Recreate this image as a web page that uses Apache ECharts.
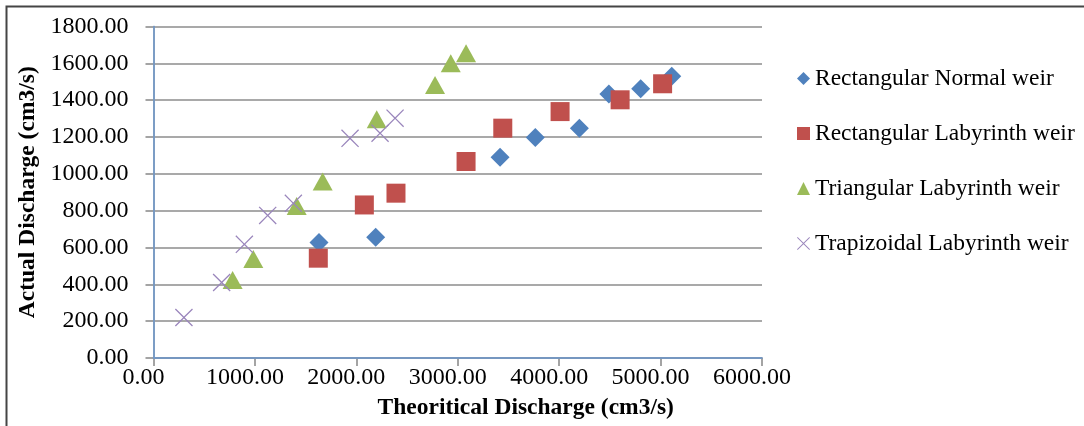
<!DOCTYPE html>
<html>
<head>
<meta charset="utf-8">
<script src="https://cdn.jsdelivr.net/npm/echarts@6/dist/echarts.min.js"></script>
<style>
  html, body { margin: 0; padding: 0; background: #fff; }
  #chart { width: 1084px; height: 426px; }
</style>
</head>
<body>
<div id="chart"></div>
<script>
// Theoretical vs actual discharge (cm3/s) for four weir types
const seriesNames = [
  'Rectangular Normal weir',
  'Rectangular Labyrinth weir',
  'Triangular Labyrinth weir',
  'Trapizoidal Labyrinth weir'
];

const rectangularNormal = [
  [1632, 627], [2191, 656], [3417, 1090], [3765, 1197],
  [4199, 1248], [4490, 1433], [4804, 1462], [5110, 1530]
];
const rectangularLabyrinth = [
  [1625, 542], [2079, 831], [2391, 895], [3082, 1067],
  [3444, 1248], [4009, 1338], [4601, 1402], [5020, 1489]
];
const triangularLabyrinth = [
  [780, 424], [984, 538], [1412, 825], [1668, 958],
  [2201, 1297], [2776, 1483], [2931, 1601], [3082, 1655]
];
const trapizoidalLabyrinth = [
  [300, 220], [672, 410], [896, 617], [1126, 774],
  [1379, 840], [1938, 1193], [2234, 1221], [2382, 1302]
];

const xTitle = 'Theoritical Discharge (cm3/s)';
const yTitle = 'Actual Discharge (cm3/s)';
const xRange = { min: 0, max: 6000, interval: 1000 };
const yRange = { min: 0, max: 1800, interval: 200 };

const FONT = '"Liberation Serif", "Times New Roman", serif';
const colors = ['#4F81BD', '#C0504D', '#9BBB59', '#8064A2'];
// thin diagonal cross marker
const crossPath = 'path://M0,5L5,0L50,45L95,0L100,5L55,50L100,95L95,100L50,55L5,100L0,95L45,50Z';

const chart = echarts.init(document.getElementById('chart'), null, { renderer: 'canvas' });

const fmt = v => Number(v).toFixed(2);

chart.setOption({
  animation: false,
  backgroundColor: '#ffffff',
  color: colors,
  textStyle: { fontFamily: FONT },
  grid: { left: 153.5, right: 322, top: 26.5, bottom: 68, containLabel: false },
  legend: {
    orient: 'vertical',
    left: 792,
    top: 61.5,
    itemWidth: 13,
    itemHeight: 13,
    itemGap: 31,
    textStyle: { fontFamily: FONT, fontSize: 23.5, color: '#000', lineHeight: 24 },
    data: [
      { name: seriesNames[0], icon: 'diamond', itemStyle: { color: colors[0], opacity: 1 } },
      { name: seriesNames[1], icon: 'rect', itemStyle: { color: colors[1], opacity: 1 } },
      { name: seriesNames[2], icon: 'triangle', itemStyle: { color: colors[2], opacity: 1 } },
      { name: seriesNames[3], icon: crossPath, itemStyle: { color: '#9A86BC', opacity: 1 } }
    ]
  },
  xAxis: [
    {
      type: 'value',
      min: xRange.min, max: xRange.max, interval: xRange.interval,
      name: xTitle,
      nameLocation: 'middle',
      nameGap: 38,
      nameTextStyle: { fontFamily: FONT, fontSize: 23.5, fontWeight: 'bold', color: '#000', padding: [0, 0, 0, 136] },
      axisLine: { show: true, lineStyle: { color: '#868686', width: 1.5 } },
      axisTick: { show: true, length: 8, inside: false, lineStyle: { color: '#868686', width: 1.5 } },
      axisLabel: { formatter: fmt, fontFamily: FONT, fontSize: 24, color: '#000', margin: 8, padding: [0, 20, 0, 0] },
      splitLine: { show: false }
    },
    {
      type: 'value', position: 'top',
      min: xRange.min, max: xRange.max, interval: xRange.interval,
      z: 3,
      axisLine: { show: true, lineStyle: { color: '#6F9BD1', width: 1.5 } },
      axisTick: { show: false }, axisLabel: { show: false }, splitLine: { show: false }
    }
  ],
  yAxis: [
    {
      type: 'value',
      min: yRange.min, max: yRange.max, interval: yRange.interval,
      name: yTitle,
      nameLocation: 'middle',
      nameGap: 105,
      nameRotate: 90,
      nameTextStyle: { fontFamily: FONT, fontSize: 23.5, fontWeight: 'bold', color: '#000' },
      axisLine: { show: true, lineStyle: { color: '#868686', width: 1.5 } },
      axisTick: { show: true, length: 8, inside: false, lineStyle: { color: '#868686', width: 1.5 } },
      axisLabel: { formatter: fmt, fontFamily: FONT, fontSize: 24, color: '#000', margin: 25 },
      splitLine: { show: true, lineStyle: { color: '#8C8C8C', width: 1.5 } }
    },
    {
      type: 'value', position: 'right',
      min: yRange.min, max: yRange.max, interval: yRange.interval,
      z: 3,
      axisLine: { show: true, lineStyle: { color: '#6F9BD1', width: 1.5 } },
      axisTick: { show: false }, axisLabel: { show: false }, splitLine: { show: false }
    }
  ],
  series: [
    {
      name: seriesNames[0], type: 'scatter', data: rectangularNormal,
      symbol: 'diamond', symbolSize: 19,
      itemStyle: { color: colors[0], opacity: 1 }
    },
    {
      name: seriesNames[1], type: 'scatter', data: rectangularLabyrinth,
      symbol: 'rect', symbolSize: 19,
      itemStyle: { color: colors[1], opacity: 1 }
    },
    {
      name: seriesNames[2], type: 'scatter', data: triangularLabyrinth,
      symbol: 'triangle', symbolSize: [20, 18],
      itemStyle: { color: colors[2], opacity: 1 }
    },
    {
      name: seriesNames[3], type: 'scatter', data: trapizoidalLabyrinth,
      symbol: crossPath, symbolSize: 18,
      itemStyle: { color: '#9A86BC', opacity: 1 }
    }
  ],
  graphic: [
    {
      type: 'rect',
      shape: { x: 6.5, y: 6.5, width: 1200, height: 600 },
      style: { fill: null, stroke: '#454545', lineWidth: 2 },
      silent: true
    }
  ]
});
</script>
</body>
</html>
